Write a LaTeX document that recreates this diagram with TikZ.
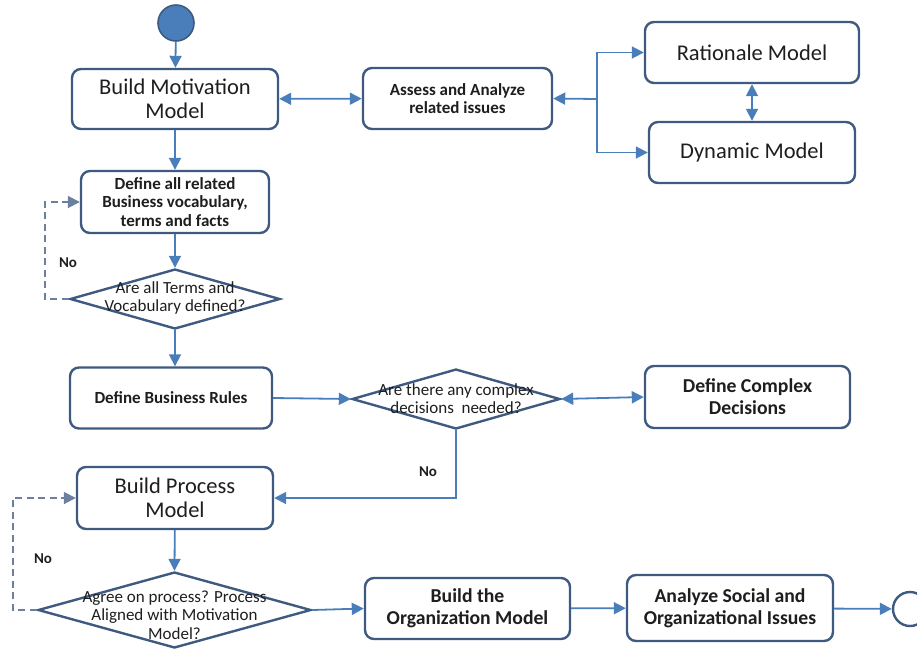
\documentclass[tikz,border=0pt]{standalone}
\usepackage{fontspec}
\setmainfont{Carlito}
\usetikzlibrary{arrows.meta,shapes.geometric}
\definecolor{boxc}{HTML}{3F5A80}
\definecolor{arrc}{HTML}{4A7EBB}
\definecolor{dashc}{HTML}{6B7FA0}
\definecolor{txtc}{HTML}{1E1E1E}
\tikzset{
  box/.style={draw=boxc, line width=2.4pt, rounded corners=9pt, fill=white,
    align=center, inner sep=0pt, text=txtc},
  bigtxt/.style={font=\fontsize{22.5}{24.5}\selectfont},
  midtxt/.style={font=\bfseries\fontsize{19.7}{22}\selectfont},
  smalltxt/.style={font=\bfseries\fontsize{17}{18.5}\selectfont},
  decision/.style={diamond, draw=boxc, line width=2.4pt, inner sep=0pt},
  qtxt/.style={align=center, text=txtc, font=\fontsize{17}{18.5}\selectfont},
  arr/.style={draw=arrc, line width=1.8pt, -{Triangle[length=12pt,width=12pt]}},
  darr/.style={draw=arrc, line width=1.8pt, {Triangle[length=12pt,width=12pt]}-{Triangle[length=12pt,width=12pt]}},
  loopline/.style={draw=dashc, line width=1.8pt, dash pattern=on 7pt off 4.5pt, -{Triangle[length=12pt,width=12pt]}},
  nolabel/.style={font=\bfseries\fontsize{15}{17}\selectfont, text=txtc}
}
\begin{document}
\begin{tikzpicture}[x=1pt,y=-1pt]
\useasboundingbox (0,0) rectangle (917,649);

% start and end markers
\node[circle, draw=boxc, fill=arrc, line width=1.6pt, minimum size=36pt, inner sep=0pt] (start) at (176,23) {};
\node[circle, draw=boxc, fill=white, line width=2.4pt, minimum size=34pt, inner sep=0pt] (stop) at (910,609) {};

% activity boxes
\node[box, bigtxt, minimum width=206pt, minimum height=60pt] (bmm) at (175,99) {Build Motivation\\Model};
\node[box, smalltxt, minimum width=189pt, minimum height=61pt] (assess) at (457.5,98.5) {Assess and Analyze\\related issues};
\node[box, bigtxt, minimum width=214pt, minimum height=61pt] (rat) at (752,52.5) {Rationale Model};
\node[box, bigtxt, minimum width=206pt, minimum height=61pt] (dyn) at (752,152.5) {Dynamic Model};
\node[box, smalltxt, minimum width=188pt, minimum height=62pt] (defvoc) at (175,202) {Define all related\\Business vocabulary,\\terms and facts};
\node[box, smalltxt, minimum width=202pt, minimum height=61pt] (dbr) at (171,398) {Define Business Rules};
\node[box, midtxt, minimum width=205pt, minimum height=62pt] (dcd) at (747.5,397) {Define Complex\\Decisions};
\node[box, bigtxt, minimum width=196pt, minimum height=62pt] (bpm) at (175,498) {Build Process\\Model};
\node[box, midtxt, minimum width=205pt, minimum height=61pt] (bom) at (467.5,608.5) {Build the\\Organization Model};
\node[box, midtxt, minimum width=206pt, minimum height=66pt] (aso) at (730,608) {Analyze Social and\\Organizational Issues};

% decisions
\node[decision, minimum width=210pt, minimum height=60pt] (q1) at (175,299) {};
\node[qtxt] (q1t) at (175,298) {Are all Terms and\\Vocabulary defined?};
\node[decision, minimum width=208pt, minimum height=60pt] (q2) at (456,399) {};
\node[qtxt] (q2t) at (456,398.5) {Are there any complex\\decisions~ needed?};
\node[decision, minimum width=273pt, minimum height=76pt] (q3) at (174.5,610) {};
\node[qtxt] (q3t) at (174.5,615) {Agree on process? Process\\Aligned with Motivation\\Model?};

% loop-back points
\coordinate (br) at (597,99);
\coordinate (l1) at (45,299);
\coordinate (l3) at (13,610);

% connectors
\draw[arr] (start) -- (bmm);
\draw[darr] (bmm) -- (assess);
\draw[arr] (br) -- (assess.east);
\draw[arr] (br) |- (rat.west);
\draw[arr] (br) |- (dyn.west);
\draw[darr] (rat) -- (dyn);
\draw[arr] (bmm) -- (defvoc);
\draw[arr] (defvoc) -- (q1.north);
\draw[arr] (q1.south) -- (q1.south |- dbr.north);
\draw[arr] (dbr.east) -- (q2.west);
\draw[darr] (q2.east) -- (dcd.west);
\draw[arr] (q2.south) |- (bpm.east);
\draw[arr] (bpm) -- (q3.north);
\draw[arr] (q3.east) -- (bom.west);
\draw[arr] (bom) -- (aso);
\draw[arr] (aso) -- (stop);
\draw[loopline] (q1.west) -- (l1) |- (defvoc.west);
\draw[loopline] (q3.west) -- (l3) |- (bpm.west);

% branch labels
\node[nolabel] (no1) at (68,263) {No};
\node[nolabel] (no2) at (428,472) {No};
\node[nolabel] (no3) at (43,559) {No};
\end{tikzpicture}
\end{document}
